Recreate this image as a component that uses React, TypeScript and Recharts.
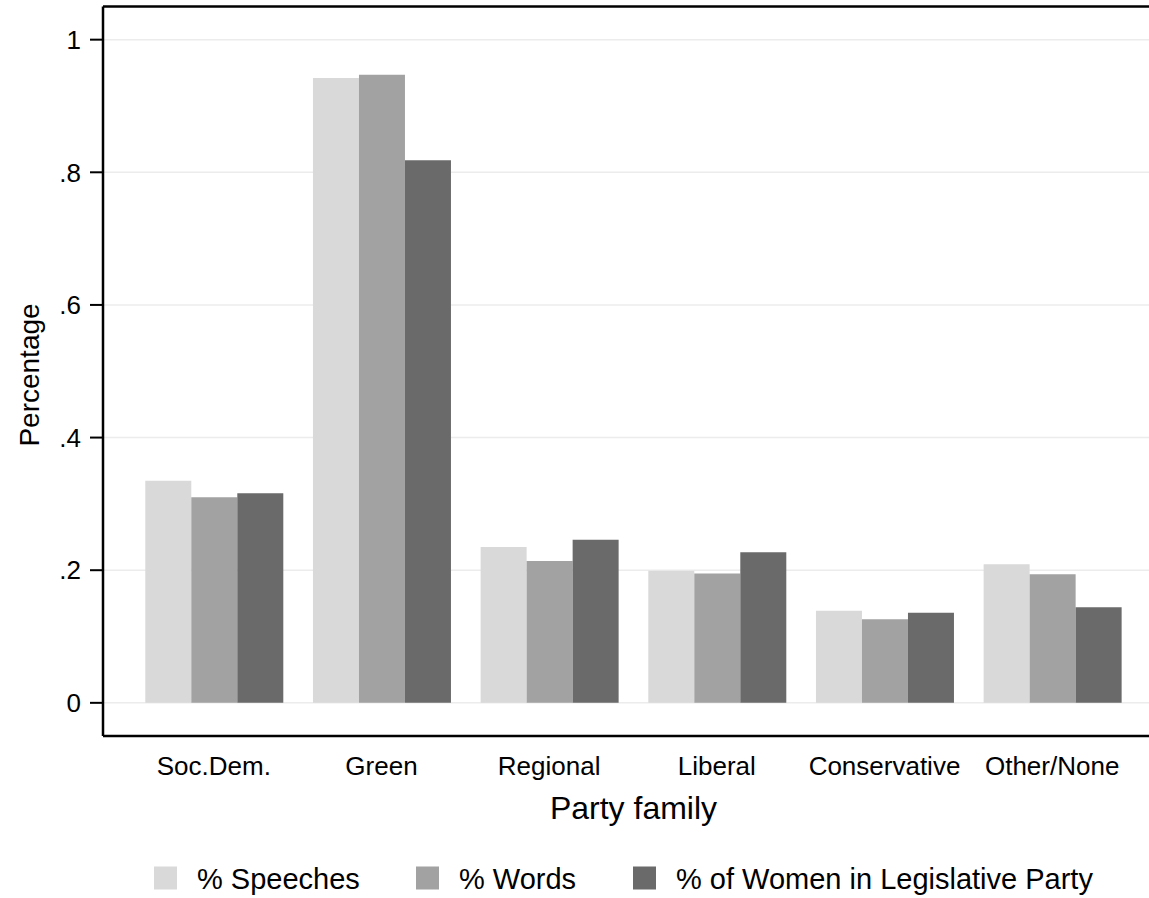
import React from 'react'
import { BarChart, Bar, XAxis, YAxis, CartesianGrid, ReferenceLine } from 'recharts'

const categories = ['Soc.Dem.', 'Green', 'Regional', 'Liberal', 'Conservative', 'Other/None']
const speeches = [0.335, 0.942, 0.235, 0.199, 0.139, 0.209]
const words = [0.31, 0.947, 0.214, 0.195, 0.126, 0.194]
const women = [0.316, 0.818, 0.246, 0.227, 0.136, 0.144]
const yTicks = [0, 0.2, 0.4, 0.6, 0.8, 1]

const series = [
  { key: 'speeches', label: '% Speeches', color: '#d9d9d9' },
  { key: 'words', label: '% Words', color: '#a2a2a2' },
  { key: 'women', label: '% of Women in Legislative Party', color: '#6a6a6a' },
]

const rows = categories.map((name, i) => ({
  name,
  speeches: speeches[i],
  words: words[i],
  women: women[i],
}))

const FONT = '"Liberation Sans", Arial, Helvetica, sans-serif'
const Y_MIN = -0.05
const Y_MAX = 1.05

// stata style: ".2" instead of "0.2"
const fmtTick = (v: number) => (v === 0 ? '0' : v === 1 ? '1' : String(v).replace(/^0/, ''))

// legend item x positions (square left edge)
const legendX = [154, 416, 633]

export default function App() {
  return (
    <div
      style={{
        position: 'absolute',
        left: 0,
        top: 0,
        width: 1149,
        height: 898,
        overflow: 'hidden',
        background: '#fff',
        fontFamily: FONT,
      }}
    >
      <BarChart
        width={1163}
        height={898}
        data={rows}
        margin={{ top: 6.5, right: 0, bottom: 132, left: 0 }}
        barCategoryGap={15.3}
        barGap={0}
      >
        <CartesianGrid vertical={false} stroke="#ececec" strokeWidth={1.5} />
        <XAxis
          dataKey="name"
          height={30}
          interval={0}
          padding={{ left: 27, right: 27 }}
          axisLine={{ stroke: '#000', strokeWidth: 2.5 }}
          tickLine={false}
          tickSize={0}
          tickMargin={21}
          tick={{ fontSize: 26, fill: '#000', fontFamily: FONT }}
        />
        <YAxis
          width={103}
          domain={[Y_MIN, Y_MAX]}
          ticks={yTicks}
          tickFormatter={fmtTick}
          axisLine={{ stroke: '#000', strokeWidth: 2.5 }}
          tickLine={{ stroke: '#000', strokeWidth: 2 }}
          tickSize={13}
          tickMargin={9}
          tick={{ fontSize: 26, fill: '#000', fontFamily: FONT }}
          allowDataOverflow
        />
        <ReferenceLine y={Y_MAX} stroke="#000" strokeWidth={2.5} />
        {series.map((s) => (
          <Bar key={s.key} dataKey={s.key} fill={s.color} isAnimationActive={false} />
        ))}
      </BarChart>

      <svg
        width={1149}
        height={898}
        style={{ position: 'absolute', left: 0, top: 0, pointerEvents: 'none' }}
      >
        <text
          x={39}
          y={375}
          transform="rotate(-90 39 375)"
          textAnchor="middle"
          fontSize={28}
          fontFamily={FONT}
          fill="#000"
        >
          Percentage
        </text>
        <text x={633.5} y={819} textAnchor="middle" fontSize={32} fontFamily={FONT} fill="#000">
          Party family
        </text>
        {series.map((s, i) => (
          <g key={s.key}>
            <rect x={legendX[i]} y={866.5} width={23} height={23} fill={s.color} />
            <text x={legendX[i] + 43} y={889} fontSize={29} fontFamily={FONT} fill="#000">
              {s.label}
            </text>
          </g>
        ))}
      </svg>
    </div>
  )
}
